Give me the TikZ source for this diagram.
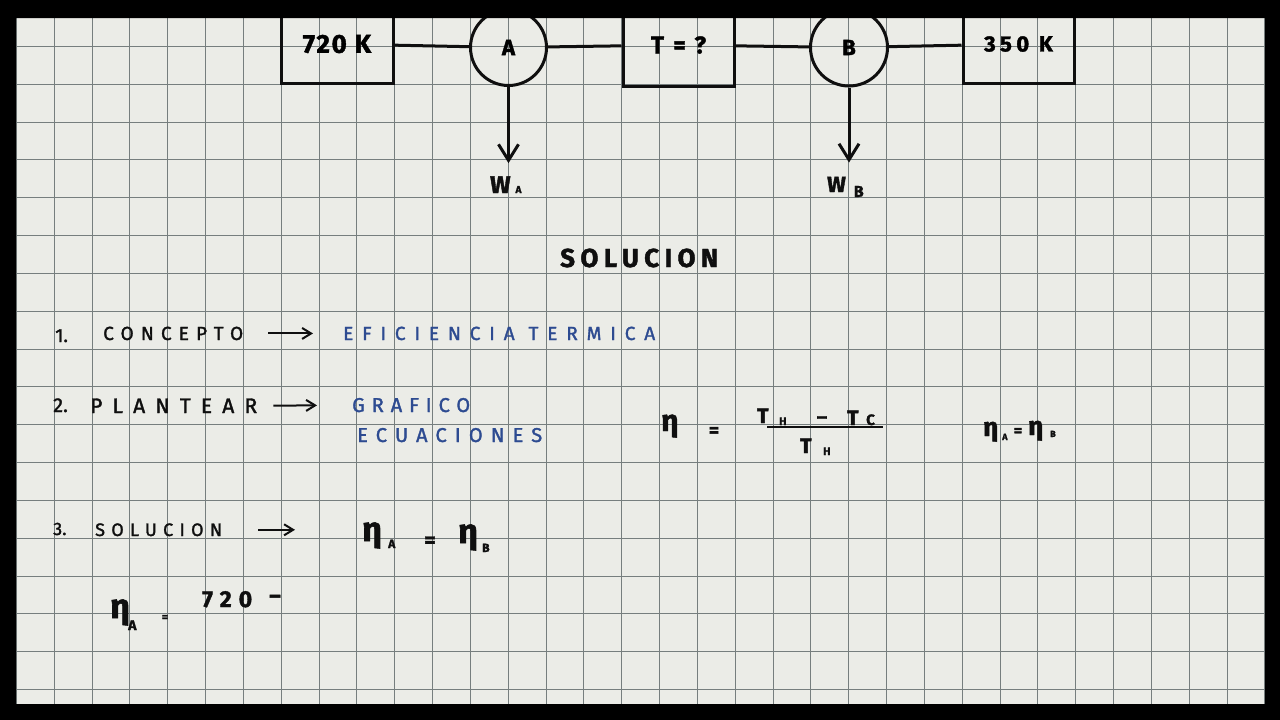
\documentclass[tikz,border=0pt]{standalone}
\usepackage{fontspec}
\setmainfont{Fira Sans}[FakeBold=1.6]
\usetikzlibrary{arrows.meta}
\definecolor{paper}{RGB}{235,236,231}
\definecolor{gridc}{RGB}{118,126,126}
\definecolor{ink}{RGB}{15,15,15}
\definecolor{inkblue}{RGB}{45,75,145}
\newcommand\fsz[1]{\fontsize{#1}{#1}\selectfont}
\makeatletter
\newcommand\fitw[3]{\begingroup
  \setbox0\hbox{#3}%
  \pgfmathsetmacro\fwls{max(0,((#1)-\the\wd0)/((#2)-1))}%
  \pgfmathsetmacro\fwlsp{\fwls/\f@size*100}%
  \edef\fwdo{\noexpand\addfontfeatures{LetterSpace=\fwlsp}}\fwdo
  #3\endgroup}
\makeatother
\begin{document}
\begin{tikzpicture}[x=1pt,y=-1pt,
  gridline/.style={draw=gridc,line width=1pt},
  stroke/.style={draw=ink,line width=3pt},
  boxn/.style={stroke,rectangle,inner sep=0,minimum width=112pt,font=\fsz{26}\bfseries},
  circn/.style={stroke,circle,inner sep=0,minimum size=76pt,font=\fsz{22}\bfseries},
  txt/.style={inner sep=0,anchor=base west,text=ink},
  btxt/.style={txt,text=inkblue},
  ctxt/.style={inner sep=0,text=ink},
  bigarrow/.style={-{Straight Barb[length=16pt,width=20pt]},draw=ink,line width=3pt},
  smallarrow/.style={-{Straight Barb[length=9pt,width=11pt]},draw=ink,line width=2pt},
]
\useasboundingbox (0,0) rectangle (1280,720);
\fill[paper] (16,18) rectangle (1265,704);
\foreach \i in {0,...,33} \draw[gridline] ({round(16+37.83*\i)+0.5},18) -- ({round(16+37.83*\i)+0.5},704);
\foreach \j in {0,...,17} \draw[gridline] (16,{round(46+37.83*\j)+0.5}) -- (1265,{round(46+37.83*\j)+0.5});

% top diagram
\node[boxn,minimum height=78pt] (b720) at (337,44) {\fitw{70}{5}{720 K}};
\node[circn] (cA) at (508.5,47.5) {A};
\node[boxn,minimum width=111pt,minimum height=82pt,font=\fsz{24}\bfseries] (bT) at (678.5,45) {\fitw{55}{3}{T=?}};
\node[circn,minimum size=77pt] (cB) at (849,47.5) {B};
\node[boxn,minimum width=111pt,minimum height=78pt,font=\fsz{22}\bfseries] (b350) at (1018.5,44) {\fitw{73}{5}{350 K}};
\draw[stroke] (b720) -- (cA);
\draw[stroke] (cA) -- (bT);
\draw[stroke] (bT) -- (cB);
\draw[stroke] (cB) -- (b350);

\node[txt,font=\bfseries] (WA) at (490,193) {{\fsz{24}W}\kern5pt{\fsz{10}A}};
\node[txt,font=\bfseries] (WB) at (827,192) {{\fsz{22}W}\kern8pt\raisebox{-5pt}{\fsz{16}B}};
\draw[bigarrow,shorten >=13pt] (cA.south) -- (cA.south |- WA.north);
\draw[bigarrow,shorten >=14pt] (cB.south) -- (cB.south |- WB.north);

\node[txt,font=\fsz{26}\bfseries] (sol) at (560,267) {\fitw{158}{8}{SOLUCION}};

% line 1
\node[txt,font=\fsz{19}] (n1) at (55,342) {1.};
\node[txt,font=\fsz{19}] (c1) at (103,340) {\fitw{140}{8}{CONCEPTO}};
\node[btxt,font=\fsz{19}] (e1) at (343,340) {\fitw{312}{17}{EFICIENCIA TERMICA}};
\draw[smallarrow,shorten <=25pt,shorten >=30pt] (c1.east) -- (e1.west);

% line 2
\node[txt,font=\fsz{20}] (n2) at (53,412) {2.};
\node[txt,font=\fsz{21}] (p2) at (90,413) {\fitw{167}{8}{PLANTEAR}};
\node[btxt,font=\fsz{20}] (g2) at (352,412) {\fitw{118}{7}{GRAFICO}};
\node[btxt,font=\fsz{20}] (ec2) at (357,442) {\fitw{185}{10}{ECUACIONES}};
\draw[smallarrow,shorten <=16pt,shorten >=35pt] (p2.east) -- (g2.west);

% efficiency formula
\node[txt,font=\fsz{30}\bfseries] (eta) at (661,431) {η};
\node[ctxt,font=\fsz{20}\bfseries] (eq1) at (714,432) {=};
\node[txt,font=\fsz{21}\bfseries] (t1) at (757,423) {T};
\node[txt,font=\fsz{11}\bfseries] (h1) at (779,425) {H};
\node[ctxt,font=\fsz{20}\bfseries] (m1) at (822,420) {–};
\node[txt,font=\fsz{21}\bfseries] (t2) at (847,425) {T};
\node[txt,font=\fsz{15}\bfseries] (c2) at (866,425) {C};
\draw[stroke,line width=2.5pt] (767,427) -- (883,427);
\node[txt,font=\fsz{21}\bfseries] (t3) at (800,453) {T};
\node[txt,font=\fsz{11}\bfseries] (h3) at (823,455) {H};

\node[txt,font=\fsz{26}\bfseries] (ea) at (983,436) {η};
\node[txt,font=\fsz{9}\bfseries] (sa) at (1002,440) {A};
\node[ctxt,font=\fsz{16}\bfseries] (eq2) at (1018,432) {=};
\node[txt,font=\fsz{26}\bfseries] (eb) at (1028,435) {η};
\node[txt,font=\fsz{9}\bfseries] (sb) at (1050,437) {B};

% line 3
\node[txt,font=\fsz{18}] (n3) at (53,535) {3.};
\node[txt,font=\fsz{18}] (s3) at (95,536) {\fitw{127}{8}{SOLUCION}};
\node[txt,font=\fsz{34}\bfseries] (e3a) at (362,541) {η};
\node[txt,font=\fsz{12}\bfseries] (s3a) at (388,548) {A};
\node[ctxt,font=\fsz{22}\bfseries] (eq3) at (430,542) {=};
\node[txt,font=\fsz{34}\bfseries] (e3b) at (458,543) {η};
\node[txt,font=\fsz{12}\bfseries] (s3b) at (482,552) {B};
\draw[smallarrow,shorten <=36pt,shorten >=67pt] (s3.east) -- (s3.east -| e3a.west);

% line 4
\node[txt,font=\fsz{34}\bfseries] (e4a) at (110,618) {η};
\node[txt,font=\fsz{14}\bfseries] (s4a) at (128,630) {A};
\node[ctxt,font=\fsz{12}\bfseries] (eq4) at (165,618) {=};
\node[txt,font=\fsz{23}\bfseries] (n720) at (202,607) {\fitw{50}{3}{720}};
\node[ctxt,font=\fsz{22}\bfseries] (m4) at (275,599) {–};

% frame
\fill[black,even odd rule] (0,0) rectangle (1280,720) (16,18) rectangle (1265,704);
\end{tikzpicture}
\end{document}
